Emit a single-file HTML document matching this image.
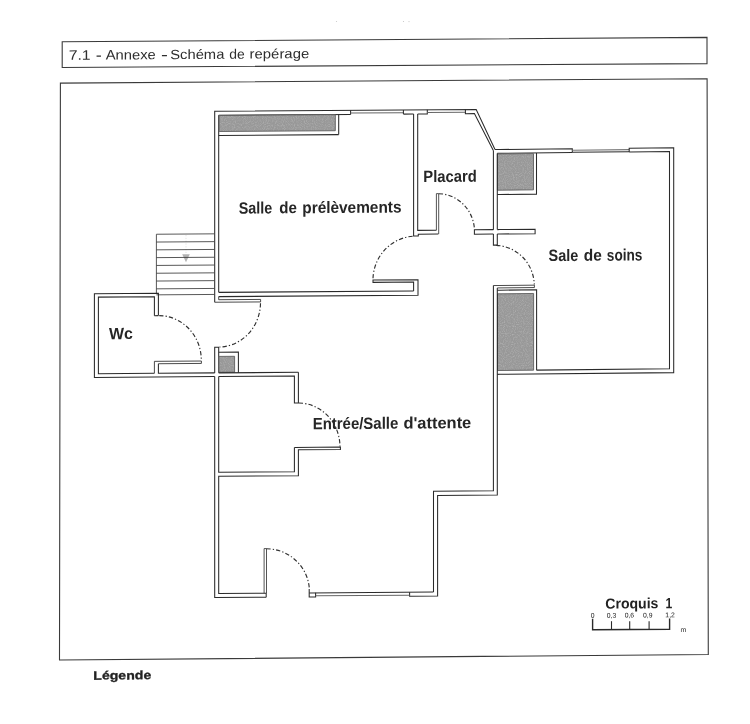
<!DOCTYPE html>
<html lang="fr">
<head>
<meta charset="utf-8">
<title>7.1 - Annexe - Schéma de repérage</title>
<style>
html,body{margin:0;padding:0;background:#fff;}
body{width:750px;height:724px;overflow:hidden;font-family:"Liberation Sans",sans-serif;}
svg{display:block;filter:blur(0.25px);}
svg text{font-family:"Liberation Sans",sans-serif;}
</style>
</head>
<body>
<svg width="750" height="724" viewBox="0 0 750 724">
<defs>
<filter id="noise" x="0" y="0" width="100%" height="100%">
<feTurbulence type="fractalNoise" baseFrequency="0.9" numOctaves="2" seed="3" result="n"/>
<feColorMatrix in="n" type="matrix" values="0 0 0 0 0  0 0 0 0 0  0 0 0 0 0  0.9 0 0 0 -0.38" result="a"/>
<feComposite in="a" in2="SourceGraphic" operator="in" result="spk"/>
<feFlood flood-color="#c9c9c9"/><feComposite in2="spk" operator="in" result="light"/>
<feMerge><feMergeNode in="SourceGraphic"/><feMergeNode in="light"/></feMerge>
</filter>
</defs>
<rect width="750" height="724" fill="#ffffff"/>
<circle cx="336.5" cy="21.5" r="0.6" fill="#c8c8c8"/><circle cx="403.5" cy="21.5" r="0.6" fill="#c4c4c4"/><circle cx="409" cy="21.6" r="0.6" fill="#c8c8c8"/>
<!-- header box -->
<polygon points="62.2,41.8 707,37.4 707,63.6 62.2,67.5" fill="none" stroke="#3a3a3a" stroke-width="1.1"/>
<!-- main frame -->
<polygon points="60.4,83.1 707.1,78.7 708.3,654.5 59.5,660" fill="none" stroke="#3a3a3a" stroke-width="1.1"/>
<g stroke-linecap="butt" stroke-linejoin="miter">
<polyline points="186.0,235.04 186.0,255.54" fill="none" stroke="#d0d0d0" stroke-width="0.6" stroke-dasharray="1.2 1.6"/>
<polygon points="182.2,254.34000000000003 189.8,254.34000000000003 186.0,262.34000000000003" fill="#b2b2b2" stroke="none"/>
<polyline points="214.2,233.84 156.4,234.24 156.4,293.34" fill="none" stroke="#3a3a3a" stroke-width="0.85" />
<polyline points="156.4,242.04 214.2,241.64" fill="none" stroke="#3a3a3a" stroke-width="0.85" />
<polyline points="156.4,249.84 214.2,249.44" fill="none" stroke="#3a3a3a" stroke-width="0.85" />
<polyline points="156.4,257.64 214.2,257.24" fill="none" stroke="#3a3a3a" stroke-width="0.85" />
<polyline points="156.4,265.44 214.2,265.04" fill="none" stroke="#3a3a3a" stroke-width="0.85" />
<polyline points="156.4,273.24 214.2,272.84" fill="none" stroke="#3a3a3a" stroke-width="0.85" />
<polyline points="156.4,281.04 214.2,280.64" fill="none" stroke="#3a3a3a" stroke-width="0.85" />
<polyline points="156.4,288.84 214.2,288.44" fill="none" stroke="#3a3a3a" stroke-width="0.85" />
<polyline points="156.4,294.84 214.2,294.44" fill="none" stroke="#3a3a3a" stroke-width="0.85" />
<polyline points="214.7,302.24 214.7,111.29 476.2,109.51 495.0,149.58" fill="none" stroke="#2a2a2a" stroke-width="1.05" />
<polyline points="218.7,292.36 218.7,115.36" fill="none" stroke="#2a2a2a" stroke-width="1.05" />
<polyline points="218.7,115.36 350.6,114.47" fill="none" stroke="#2a2a2a" stroke-width="1.05" />
<polyline points="338.7,114.55 338.7,134.6" fill="none" stroke="#2a2a2a" stroke-width="1.05" />
<polyline points="218.7,135.41 338.7,134.6" fill="none" stroke="#2a2a2a" stroke-width="1.05" />
<polygon points="219.2,115.46 335.3,114.67 335.3,130.72 219.2,131.51" fill="#989898" stroke="none" stroke-width="0" filter="url(#noise)"/>
<polygon points="219.2,115.46 335.3,114.67 335.3,130.72 219.2,131.51" fill="none" stroke="#606060" stroke-width="0.9" />
<polyline points="350.6,110.37 350.6,114.47" fill="none" stroke="#2a2a2a" stroke-width="1.05" />
<polyline points="350.6,113.07 403.4,112.71" fill="none" stroke="#666" stroke-width="1.05" />
<polyline points="403.4,110.01 403.4,114.11" fill="none" stroke="#2a2a2a" stroke-width="1.05" />
<polyline points="403.4,114.11 413.6,114.04" fill="none" stroke="#2a2a2a" stroke-width="1.05" />
<polyline points="417.7,114.01 427.3,113.94 427.3,109.84" fill="none" stroke="#2a2a2a" stroke-width="1.05" />
<polyline points="427.3,112.54 465.4,112.29" fill="none" stroke="#666" stroke-width="1.05" />
<polyline points="465.4,109.59 465.4,113.69 474.4,113.62 493.2,150.25" fill="none" stroke="#2a2a2a" stroke-width="1.05" />
<polyline points="413.6,114.04 413.6,235.99 418.3,235.96 418.3,234.16 438.4,234.02" fill="none" stroke="#2a2a2a" stroke-width="1.05" />
<polyline points="417.7,114.01 417.7,230.36 436.4,230.23" fill="none" stroke="#2a2a2a" stroke-width="1.05" />
<polyline points="436.4,230.23 436.4,193.63 438.7,193.62 438.7,234.02" fill="none" stroke="#2a2a2a" stroke-width="0.8" />
<polyline points="495.0,149.53 500,149.5 572.3,148.78 572.3,152.58" fill="none" stroke="#2a2a2a" stroke-width="1.05" />
<polyline points="497.3,153.32 500,153.3 572.3,152.58" fill="none" stroke="#2a2a2a" stroke-width="1.05" />
<polyline points="572.3,152.23 629.2,151.66" fill="none" stroke="#2a2a2a" stroke-width="1.05" />
<polyline points="572.3,150.18 629.2,149.61" fill="none" stroke="#777" stroke-width="1.05" />
<polyline points="629.2,152.01 629.2,148.21 673.7,147.76 673.7,372.61 500,374.35 497.3,374.37" fill="none" stroke="#2a2a2a" stroke-width="1.05" />
<polyline points="629.2,152.01 669.5,151.6 669.5,368.8 536.6,370.13" fill="none" stroke="#2a2a2a" stroke-width="1.05" />
<polygon points="497.4,153.92 500,153.9 533.5,153.56 533.5,189.86 500,190.2 497.4,190.22" fill="#989898" stroke="none" stroke-width="0" filter="url(#noise)"/>
<polygon points="497.4,153.92 500,153.9 533.5,153.56 533.5,189.86 500,190.2 497.4,190.22" fill="none" stroke="#606060" stroke-width="0.9" />
<polyline points="536.5,152.94 536.5,194.14 500,194.5 497.3,194.52" fill="none" stroke="#2a2a2a" stroke-width="1.05" />
<polyline points="493.4,150.24 493.4,229.64" fill="none" stroke="#2a2a2a" stroke-width="1.05" />
<polyline points="497.3,153.32 497.3,229.62" fill="none" stroke="#2a2a2a" stroke-width="1.05" />
<polyline points="493.4,234.04 493.4,245.14 497.3,245.12 497.3,234.02" fill="none" stroke="#2a2a2a" stroke-width="1.05" />
<polyline points="493.4,229.64 474.4,229.77 474.4,234.17 493.4,234.04" fill="none" stroke="#2a2a2a" stroke-width="1.05" />
<polyline points="497.3,229.62 500,229.6 535.1,229.25 535.1,233.65 500,234.0 497.3,234.02" fill="none" stroke="#2a2a2a" stroke-width="1.05" />
<polyline points="493.4,285.54 500,285.5 534.4,285.16 534.4,287.56 500,287.9 497.3,287.92" fill="none" stroke="#2a2a2a" stroke-width="0.85" />
<polyline points="497.3,290.22 500,290.2 536.6,289.83 536.6,370.13" fill="none" stroke="#2a2a2a" stroke-width="1.05" />
<polygon points="497.5,293.82 500,293.8 533.6,293.46 533.6,370.16 500,370.5 497.5,370.52" fill="#989898" stroke="none" stroke-width="0" filter="url(#noise)"/>
<polygon points="497.5,293.82 500,293.8 533.6,293.46 533.6,370.16 500,370.5 497.5,370.52" fill="none" stroke="#606060" stroke-width="0.9" />
<polyline points="493.4,285.54 493.4,490.74 433.5,491.15 433.5,592.05" fill="none" stroke="#2a2a2a" stroke-width="1.05" />
<polyline points="497.3,287.92 497.3,495.02 437.6,495.42 437.6,596.02 409.6,596.21 409.6,592.21" fill="none" stroke="#2a2a2a" stroke-width="1.05" />
<polyline points="218.7,292.36 413.6,291.04" fill="none" stroke="#2a2a2a" stroke-width="1.05" />
<polyline points="218.7,296.61 418.0,295.26 418.0,279.66 373.0,279.96 373.0,282.36 413.6,282.09 413.6,291.04" fill="none" stroke="#2a2a2a" stroke-width="1.05" />
<polyline points="214.7,302.24 260.6,301.93 260.6,299.43 218.7,299.71 218.7,296.61" fill="none" stroke="#2a2a2a" stroke-width="0.85" />
<polyline points="158.4,315.62 158.4,293.32 94.4,293.76 94.4,377.41 214.7,376.59" fill="none" stroke="#2a2a2a" stroke-width="1.05" />
<polyline points="154.4,315.65 154.4,296.75 98.4,297.13 98.4,373.68 154.4,373.3" fill="none" stroke="#2a2a2a" stroke-width="1.05" />
<polyline points="154.4,315.65 158.4,315.62" fill="none" stroke="#2a2a2a" stroke-width="1.05" />
<polyline points="154.4,373.3 154.4,361.35 201.4,361.03 201.4,363.43 158.4,363.72" fill="none" stroke="#2a2a2a" stroke-width="0.85" />
<polyline points="158.4,363.72 158.4,373.27 214.7,372.89" fill="none" stroke="#2a2a2a" stroke-width="1.05" />
<polyline points="214.7,372.89 214.7,347.24 218.7,347.21 218.7,352.21 238.4,352.08 238.4,372.73" fill="none" stroke="#2a2a2a" stroke-width="1.05" />
<polyline points="218.7,352.21 218.7,372.86" fill="none" stroke="#2a2a2a" stroke-width="1.05" />
<polygon points="218.9,356.41 234.6,356.3 234.6,372.2 218.9,372.31" fill="#989898" stroke="none" stroke-width="0" filter="url(#noise)"/>
<polygon points="218.9,356.41 234.6,356.3 234.6,372.2 218.9,372.31" fill="none" stroke="#606060" stroke-width="0.9" />
<polyline points="218.7,372.86 298.4,372.32" fill="none" stroke="#2a2a2a" stroke-width="1.05" />
<polyline points="214.7,376.59 214.7,597.54 266.2,597.19" fill="none" stroke="#2a2a2a" stroke-width="1.05" />
<polyline points="218.7,376.56 294.4,376.05 294.4,403.0 298.4,402.97 298.4,372.32" fill="none" stroke="#2a2a2a" stroke-width="1.05" />
<polyline points="218.7,376.56 218.7,472.21 294.4,471.7 294.4,447.4" fill="none" stroke="#2a2a2a" stroke-width="1.05" />
<polyline points="294.4,447.4 340.4,447.09 340.4,449.49 298.4,449.77 298.4,475.67 218.7,476.21 218.7,593.51 266.5,593.19" fill="none" stroke="#2a2a2a" stroke-width="1.05" />
<polyline points="264.1,593.2 264.1,548.6 266.5,548.59 266.5,593.19" fill="none" stroke="#2a2a2a" stroke-width="0.8" />
<polyline points="266.2,593.19 266.2,597.19" fill="none" stroke="#2a2a2a" stroke-width="1.05" />
<polyline points="309.2,589.0 309.2,597.0 315.6,596.95 315.6,592.85" fill="none" stroke="#2a2a2a" stroke-width="1.05" />
<polyline points="309.2,592.9 433.5,592.05" fill="none" stroke="#2a2a2a" stroke-width="1.05" />
<polyline points="315.6,595.85 409.6,595.21" fill="none" stroke="#666" stroke-width="1.05" />
<path d="M159.2,315.6 A42.5,44.5 0 0 1 201.3,359.8" fill="none" stroke="#303030" stroke-width="1.15" stroke-dasharray="4.3 2.1 1.3 2.1"/>
<path d="M260.5,303.2 A42.0,44.5 0 0 1 219.5,347.0" fill="none" stroke="#303030" stroke-width="1.15" stroke-dasharray="4.3 2.1 1.3 2.1"/>
<path d="M298.8,403.0 A41.5,44.0 0 0 1 340.0,446.6" fill="none" stroke="#303030" stroke-width="1.15" stroke-dasharray="4.3 2.1 1.3 2.1"/>
<path d="M266.4,548.8 A43.0,43.0 0 0 1 309.3,588.0" fill="none" stroke="#303030" stroke-width="1.15" stroke-dasharray="4.3 2.1 1.3 2.1"/>
<path d="M373.0,278.3 A43.0,44.0 0 0 1 413.4,236.2" fill="none" stroke="#303030" stroke-width="1.15" stroke-dasharray="4.3 2.1 1.3 2.1"/>
<path d="M438.8,193.7 A36.5,38.0 0 0 1 474.4,228.2" fill="none" stroke="#303030" stroke-width="1.15" stroke-dasharray="4.3 2.1 1.3 2.1"/>
<path d="M496.2,245.4 A39.5,40.5 0 0 1 534.3,284.6" fill="none" stroke="#303030" stroke-width="1.15" stroke-dasharray="4.3 2.1 1.3 2.1"/>
</g>
<g>
<text x="68.68" y="60.33" font-size="13.6" font-weight="normal" fill="#2e2e2e" text-anchor="start" textLength="22.01" lengthAdjust="spacingAndGlyphs" transform="skewY(-0.4)">7.1</text>
<text x="95.76" y="60.33" font-size="13.6" font-weight="normal" fill="#2e2e2e" text-anchor="start" textLength="6.03" lengthAdjust="spacingAndGlyphs" transform="skewY(-0.4)">-</text>
<text x="105.72" y="60.33" font-size="13.6" font-weight="normal" fill="#2e2e2e" text-anchor="start" textLength="50.10" lengthAdjust="spacingAndGlyphs" transform="skewY(-0.4)">Annexe</text>
<text x="161.11" y="60.33" font-size="13.6" font-weight="normal" fill="#2e2e2e" text-anchor="start" textLength="6.89" lengthAdjust="spacingAndGlyphs" transform="skewY(-0.4)">-</text>
<text x="170.27" y="60.33" font-size="13.6" font-weight="normal" fill="#2e2e2e" text-anchor="start" textLength="54.08" lengthAdjust="spacingAndGlyphs" transform="skewY(-0.4)">Schéma</text>
<text x="229.32" y="60.33" font-size="13.6" font-weight="normal" fill="#2e2e2e" text-anchor="start" textLength="15.48" lengthAdjust="spacingAndGlyphs" transform="skewY(-0.4)">de</text>
<text x="249.62" y="60.33" font-size="13.6" font-weight="normal" fill="#2e2e2e" text-anchor="start" textLength="59.60" lengthAdjust="spacingAndGlyphs" transform="skewY(-0.4)">repérage</text>
<text x="238.66" y="215.32" font-size="16.4" font-weight="bold" fill="#262626" text-anchor="start" textLength="33.49" lengthAdjust="spacingAndGlyphs" transform="skewY(-0.4)">Salle</text>
<text x="279.25" y="215.31" font-size="16.4" font-weight="bold" fill="#262626" text-anchor="start" textLength="17.59" lengthAdjust="spacingAndGlyphs" transform="skewY(-0.4)">de</text>
<text x="302.33" y="215.32" font-size="16.4" font-weight="bold" fill="#262626" text-anchor="start" textLength="99.12" lengthAdjust="spacingAndGlyphs" transform="skewY(-0.4)">prélèvements</text>
<text x="423.32" y="185.01" font-size="16.4" font-weight="bold" fill="#262626" text-anchor="start" textLength="53.36" lengthAdjust="spacingAndGlyphs" transform="skewY(-0.4)">Placard</text>
<text x="548.63" y="264.88" font-size="16.4" font-weight="bold" fill="#262626" text-anchor="start" textLength="29.68" lengthAdjust="spacingAndGlyphs" transform="skewY(-0.4)">Sale</text>
<text x="583.84" y="264.88" font-size="16.4" font-weight="bold" fill="#262626" text-anchor="start" textLength="18.00" lengthAdjust="spacingAndGlyphs" transform="skewY(-0.4)">de</text>
<text x="606.87" y="264.88" font-size="16.4" font-weight="bold" fill="#262626" text-anchor="start" textLength="35.56" lengthAdjust="spacingAndGlyphs" transform="skewY(-0.4)">soins</text>
<text x="108.91" y="339.91" font-size="16.4" font-weight="bold" fill="#262626" text-anchor="start" textLength="23.89" lengthAdjust="spacingAndGlyphs" transform="skewY(-0.4)">Wc</text>
<text x="312.66" y="431.43" font-size="16.4" font-weight="bold" fill="#262626" text-anchor="start" textLength="85.62" lengthAdjust="spacingAndGlyphs" transform="skewY(-0.4)">Entrée/Salle</text>
<text x="403.42" y="431.44" font-size="16.4" font-weight="bold" fill="#262626" text-anchor="start" textLength="67.86" lengthAdjust="spacingAndGlyphs" transform="skewY(-0.4)">d'attente</text>
<text x="605.26" y="612.88" font-size="14.8" font-weight="bold" fill="#222222" text-anchor="start" textLength="53.18" lengthAdjust="spacingAndGlyphs" transform="skewY(-0.4)">Croquis</text>
<text x="665.46" y="612.88" font-size="14.8" font-weight="bold" fill="#222222" text-anchor="start" textLength="6.74" lengthAdjust="spacingAndGlyphs" transform="skewY(-0.4)">1</text>
<text stroke="#222" stroke-width="0.3" x="93.34" y="680.30" font-size="12.0" font-weight="bold" fill="#222222" text-anchor="start" textLength="57.90" lengthAdjust="spacingAndGlyphs" transform="skewY(-0.4)">Légende</text>
</g>
<g>
<polyline points="592.6,618.8 592.6,629.8 669.6,629.1999999999999 669.6,618.5999999999999" fill="none" stroke="#2a2a2a" stroke-width="1.4"/>
<line x1="611.5" y1="629.5" x2="611.5" y2="621.1999999999999" stroke="#2a2a2a" stroke-width="1.1"/>
<line x1="629.7" y1="629.5" x2="629.7" y2="621.1999999999999" stroke="#2a2a2a" stroke-width="1.1"/>
<line x1="649.1" y1="629.5" x2="649.1" y2="621.1999999999999" stroke="#2a2a2a" stroke-width="1.1"/>
<text x="592.60" y="621.98" font-size="6.8" font-weight="normal" fill="#222" text-anchor="middle" transform="skewY(-0.4)">0</text>
<text x="611.50" y="621.98" font-size="6.8" font-weight="normal" fill="#222" text-anchor="middle" transform="skewY(-0.4)">0,3</text>
<text x="629.40" y="621.98" font-size="6.8" font-weight="normal" fill="#222" text-anchor="middle" transform="skewY(-0.4)">0,6</text>
<text x="647.70" y="621.98" font-size="6.8" font-weight="normal" fill="#222" text-anchor="middle" transform="skewY(-0.4)">0,9</text>
<text x="670.10" y="621.98" font-size="6.8" font-weight="normal" fill="#222" text-anchor="middle" transform="skewY(-0.4)">1,2</text>
<text x="680.60" y="636.70" font-size="6.8" font-weight="normal" fill="#222" text-anchor="start" transform="skewY(-0.4)">m</text>
</g>
</svg>
</body>
</html>
